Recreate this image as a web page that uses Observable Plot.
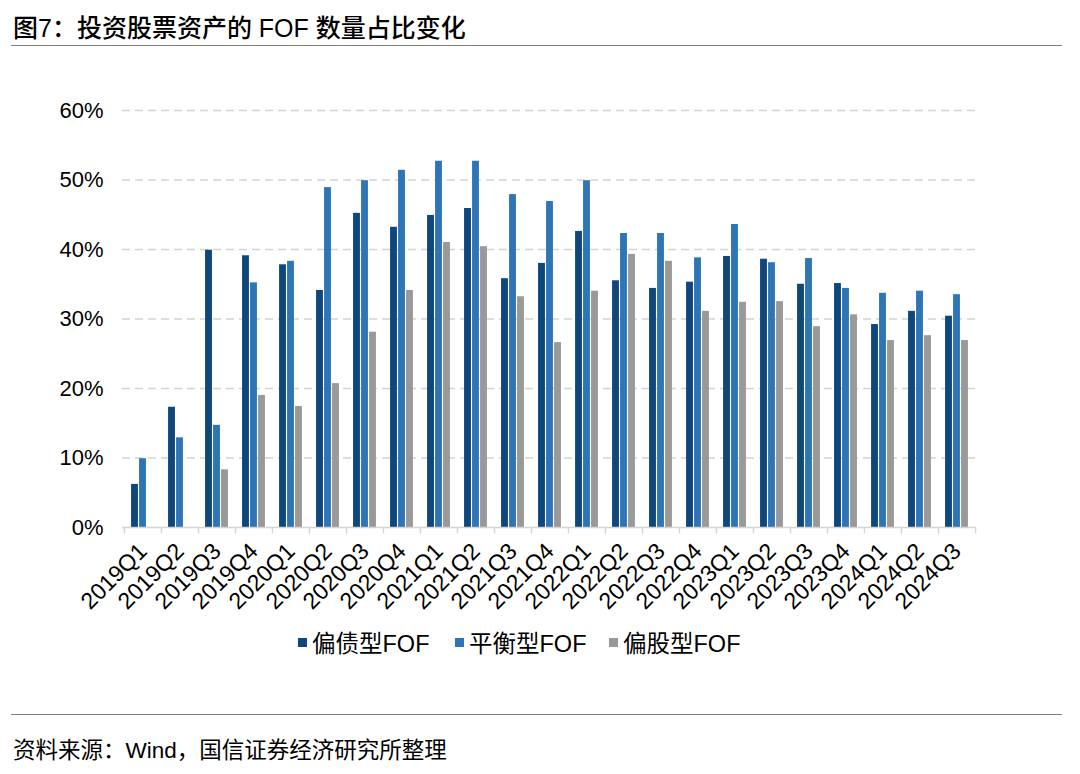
<!DOCTYPE html>
<html>
<head>
<meta charset="utf-8">
<script src="https://cdn.jsdelivr.net/npm/d3@7"></script>
<script src="https://cdn.jsdelivr.net/npm/@observablehq/plot@0.6"></script>
<style>
  body { margin: 0; background: #fff; }
  #wrap { position: relative; width: 1080px; height: 774px; font-family: "Liberation Sans", Arial, "Noto Sans CJK SC", sans-serif; color: #000; overflow: hidden; }
  #title { position: absolute; left: 13px; top: 8px; font-size: 25px; font-weight: 500; font-family: "Liberation Sans", Arial, "Noto Sans CJK SC", sans-serif; }
  .hr { position: absolute; left: 11px; width: 1051px; height: 0; border-top: 1.5px solid #808080; }
  #chart { position: absolute; left: 0; top: 80px; }
  #legend { position: absolute; top: 625px; left: 0; width: 1080px; font-size: 23.5px; }
  .item { position: absolute; top: 0; display: flex; align-items: center; }
  .sw { width: 9px; height: 9px; margin-right: 5px; }
  #footer { position: absolute; left: 13px; top: 732px; font-size: 22.5px; }
</style>
</head>
<body>
<div id="wrap">
  <div id="title">图7：投资股票资产的 FOF 数量占比变化</div>
  <div class="hr" style="top:45px"></div>
  <div id="chart"></div>
  <div id="legend"></div>
  <div class="hr" style="top:714px"></div>
  <div id="footer">资料来源：Wind，国信证券经济研究所整理</div>
</div>
<script>
const quarters = ["2019Q1","2019Q2","2019Q3","2019Q4","2020Q1","2020Q2","2020Q3","2020Q4","2021Q1","2021Q2","2021Q3","2021Q4","2022Q1","2022Q2","2022Q3","2022Q4","2023Q1","2023Q2","2023Q3","2023Q4","2024Q1","2024Q2","2024Q3"];
const seriesNames = ["偏债型FOF","平衡型FOF","偏股型FOF"];
const bondFOF     = [6.2,17.3,39.9,39.1,37.8,34.1,45.2,43.2,44.9,45.9,35.8,38.0,42.6,35.5,34.4,35.3,39.0,38.6,35.0,35.1,29.2,31.1,30.4];
const balancedFOF = [9.9,12.9,14.7,35.2,38.3,48.9,49.9,51.4,52.7,52.7,47.9,46.9,49.9,42.3,42.3,38.8,43.6,38.1,38.7,34.4,33.7,34.0,33.5];
const equityFOF   = [null,null,8.3,19.0,17.4,20.7,28.1,34.1,41.0,40.4,33.2,26.6,34.0,39.3,38.3,31.1,32.4,32.5,28.9,30.6,26.9,27.6,26.9];
const yTicks = [0,10,20,30,40,50,60];
const colors = ["#0d477c","#2e75b6","#999999"];

const width = 1080, height = 560, mL = 122, mR = 104, mT = 30, mB = 113;
const bw = (width - mL - mR) / quarters.length;
const barW = 7, pitch = 8;
const inset = (bw - barW) / 2;

const seriesData = [bondFOF, balancedFOF, equityFOF].map((vals, s) =>
  quarters.map((q, i) => ({q, v: vals[i], s})).filter(d => d.v != null));

const fontFam = '"Liberation Sans", Arial, "Noto Sans CJK SC", sans-serif';

const plot = Plot.plot({
  width, height,
  marginLeft: mL, marginRight: mR, marginTop: mT, marginBottom: mB,
  style: {fontFamily: fontFam, color: "#000", background: "#fff", overflow: "visible"},
  x: {type: "band", domain: quarters, padding: 0},
  y: {domain: [0, 60]},
  marks: [
    Plot.gridY(yTicks.filter(t => t > 0), {stroke: "#d4d4d4", strokeOpacity: 1, strokeWidth: 1.6, strokeDasharray: "8,5"}),
    ...seriesData.map((data, s) =>
      Plot.barY(data, {x: "q", y: "v", fill: colors[s], insetLeft: inset, insetRight: inset, dx: (s - 1) * pitch})),
    Plot.ruleY([0], {stroke: "#d4d4d4", strokeWidth: 1.6}),
    Plot.ruleX(quarters, {x: d => d, y1: 0, y2: -0.9, stroke: "#d4d4d4", strokeWidth: 1.4, dx: -bw / 2}),
    Plot.ruleX([quarters[quarters.length - 1]], {x: d => d, y1: 0, y2: -0.9, stroke: "#d4d4d4", strokeWidth: 1.4, dx: bw / 2}),
    Plot.axisY({ticks: yTicks, tickFormat: d => d + "%", tickSize: 0, tickPadding: 19, fontSize: 22, label: null}),
    Plot.axisX({tickSize: 0, tickRotate: -45, tickPadding: 20, fontSize: 23, label: null})
  ]
});
document.getElementById("chart").appendChild(plot);

const legend = document.getElementById("legend");
const lefts = [298, 455, 609];
seriesNames.forEach((n, i) => {
  const it = document.createElement("div");
  it.className = "item";
  it.style.left = lefts[i] + "px";
  it.innerHTML = `<span class="sw" style="background:${colors[i]}"></span><span>${n}</span>`;
  legend.appendChild(it);
});
</script>
</body>
</html>
